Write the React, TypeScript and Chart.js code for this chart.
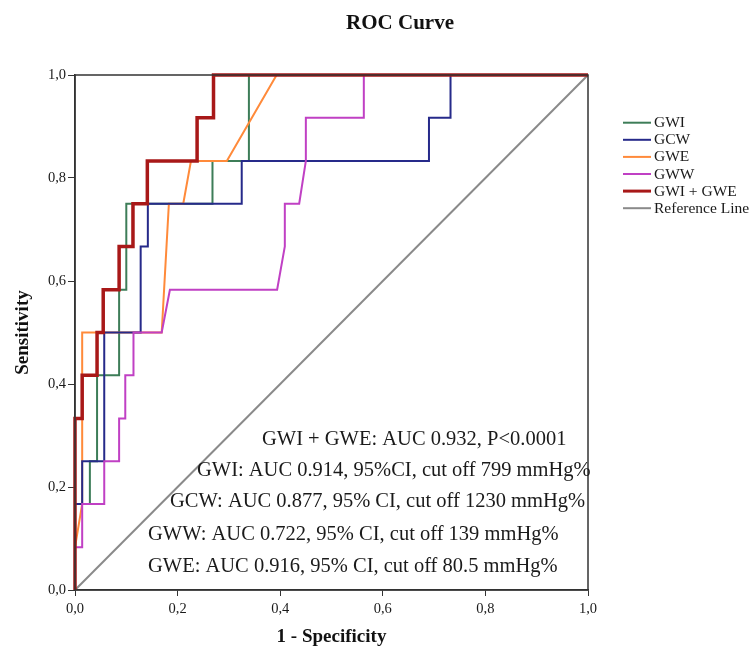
import React, { useEffect, useRef } from "react";
import { Chart, registerables } from "chart.js";

Chart.register(...registerables);

// ROC points (x = 1 - specificity, y = sensitivity)
const gwiX = [0, 0, 0.029, 0.029, 0.043, 0.043, 0.086, 0.086, 0.1, 0.1, 0.268, 0.268, 0.339, 0.339, 1];
const gwiY = [0, 0.167, 0.167, 0.25, 0.25, 0.417, 0.417, 0.583, 0.583, 0.75, 0.75, 0.833, 0.833, 1, 1];

const gcwX = [0, 0, 0.014, 0.014, 0.057, 0.057, 0.128, 0.128, 0.142, 0.142, 0.325, 0.325, 0.69, 0.69, 0.732, 0.732, 1];
const gcwY = [0, 0.167, 0.167, 0.25, 0.25, 0.5, 0.5, 0.667, 0.667, 0.75, 0.75, 0.833, 0.833, 0.917, 0.917, 1, 1];

const gweX = [0, 0, 0.014, 0.014, 0.169, 0.183, 0.211, 0.226, 0.296, 0.393, 1];
const gweY = [0, 0.083, 0.167, 0.5, 0.5, 0.75, 0.75, 0.833, 0.833, 1, 1];

const gwwX = [0, 0, 0.014, 0.014, 0.057, 0.057, 0.086, 0.086, 0.098, 0.098, 0.114, 0.114, 0.169, 0.185, 0.394, 0.409, 0.409, 0.437, 0.45, 0.45, 0.563, 0.563, 1];
const gwwY = [0, 0.083, 0.083, 0.167, 0.167, 0.25, 0.25, 0.333, 0.333, 0.417, 0.417, 0.5, 0.5, 0.583, 0.583, 0.667, 0.75, 0.75, 0.833, 0.917, 0.917, 1, 1];

const comboX = [0, 0, 0.014, 0.014, 0.043, 0.043, 0.055, 0.055, 0.086, 0.086, 0.113, 0.113, 0.141, 0.141, 0.238, 0.238, 0.27, 0.27, 1];
const comboY = [0, 0.333, 0.333, 0.417, 0.417, 0.5, 0.5, 0.583, 0.583, 0.667, 0.667, 0.75, 0.75, 0.833, 0.833, 0.917, 0.917, 1, 1];

const refX = [0, 1];
const refY = [0, 1];

const seriesLabels = ["GWI", "GCW", "GWE", "GWW", "GWI + GWE", "Reference Line"];
const seriesColors = ["#3d7d58", "#262a8a", "#ff8a3a", "#c040c4", "#a81818", "#8a8a8a"];
const seriesWidths = [2, 2, 2, 2, 3.5, 2];
const seriesOrder = [4, 2, 3, 1, 0, 5];

const yTicks = [0, 0.2, 0.4, 0.6, 0.8, 1.0];

const titleText = "ROC Curve";
const xTitle = "1 - Specificity";
const yTitle = "Sensitivity";

const noteTexts = [
  "GWI + GWE: AUC 0.932, P<0.0001",
  "GWI: AUC 0.914, 95%CI, cut off 799 mmHg%",
  "GCW: AUC 0.877, 95% CI, cut off 1230 mmHg%",
  "GWW: AUC 0.722, 95% CI, cut off 139 mmHg%",
  "GWE: AUC 0.916, 95% CI, cut off 80.5 mmHg%",
];
const noteLeft = [262, 197, 170, 148, 148];
const noteMidY = [440, 471, 502, 535, 567];

const SERIF = '"Liberation Serif", "Times New Roman", serif';

function pts(xs: number[], ys: number[]) {
  return xs.map((x, i) => ({ x, y: ys[i] }));
}

const decorPlugin = {
  id: "decor",
  afterDraw(chart: any) {
    const { ctx, chartArea } = chart;
    ctx.save();
    // frame
    ctx.strokeStyle = "#333";
    ctx.lineWidth = 1.5;
    ctx.strokeRect(chartArea.left, chartArea.top, chartArea.right - chartArea.left, chartArea.bottom - chartArea.top);
    // title
    ctx.fillStyle = "#111";
    ctx.font = `bold 21px ${SERIF}`;
    ctx.textAlign = "center";
    ctx.textBaseline = "middle";
    ctx.fillText(titleText, 400, 24);
    // notes
    ctx.font = `20.5px ${SERIF}`;
    ctx.textAlign = "left";
    ctx.fillStyle = "#1a1a1a";
    noteTexts.forEach((t, i) => ctx.fillText(t, noteLeft[i], noteMidY[i]));
    // legend
    ctx.font = `15.5px ${SERIF}`;
    chart.data.datasets.forEach((ds: any, i: number) => {
      const y = 122.7 + i * 17.1;
      ctx.strokeStyle = ds.borderColor;
      ctx.lineWidth = i === 4 ? 3 : 2;
      ctx.beginPath();
      ctx.moveTo(623, y);
      ctx.lineTo(651, y);
      ctx.stroke();
      ctx.fillStyle = "#1a1a1a";
      ctx.fillText(ds.label, 654, y + 0.5);
    });
    ctx.restore();
  },
};

export default function App() {
  const ref = useRef<HTMLCanvasElement | null>(null);
  useEffect(() => {
    if (!ref.current) return;
    const xs = [gwiX, gcwX, gweX, gwwX, comboX, refX];
    const ys = [gwiY, gcwY, gweY, gwwY, comboY, refY];
    const chart = new Chart(ref.current, {
      type: "line",
      data: {
        datasets: seriesLabels.map((label, i) => ({
          label,
          data: pts(xs[i], ys[i]),
          borderColor: seriesColors[i],
          backgroundColor: seriesColors[i],
          borderWidth: seriesWidths[i],
          pointRadius: 0,
          fill: false,
          tension: 0,
          order: seriesOrder[i],
          clip: 4,
        })),
      },
      options: {
        responsive: false,
        animation: false,
        devicePixelRatio: 1,
        parsing: true,
        layout: { padding: { top: 75, right: 164, bottom: 0, left: 0 } },
        plugins: {
          legend: { display: false },
          tooltip: { enabled: false },
          title: { display: false },
        },
        scales: {
          x: {
            type: "linear",
            min: 0,
            max: 1,
            afterFit: (s: any) => {
              s.height = 58;
            },
            ticks: {
              stepSize: 0.2,
              color: "#1a1a1a",
              padding: 4,
              font: { family: SERIF, size: 14.5 },
              callback: (v: any) => Number(v).toFixed(1).replace(".", ","),
            },
            grid: { display: true, drawOnChartArea: false, drawTicks: true, tickLength: 6, color: "#333" },
            border: { display: true, color: "#333", width: 1.5 },
            title: {
              display: true,
              text: xTitle,
              color: "#111",
              font: { family: SERIF, size: 19, weight: "bold" },
              padding: { top: 0, bottom: 0 },
            },
          },
          y: {
            type: "linear",
            min: 0,
            max: 1,
            afterFit: (s: any) => {
              s.width = 75;
            },
            afterBuildTicks: (s: any) => {
              s.ticks = yTicks.map((v) => ({ value: v }));
            },
            ticks: {
              color: "#1a1a1a",
              padding: 2,
              font: { family: SERIF, size: 14.5 },
              callback: (v: any) => Number(v).toFixed(1).replace(".", ","),
            },
            grid: { display: true, drawOnChartArea: false, drawTicks: true, tickLength: 7, color: "#333" },
            border: { display: true, color: "#333", width: 1.5 },
            title: {
              display: true,
              text: yTitle,
              color: "#111",
              font: { family: SERIF, size: 19, weight: "bold" },
              padding: { top: 12, bottom: 0 },
            },
          },
        },
      },
      plugins: [decorPlugin],
    });
    return () => chart.destroy();
  }, []);
  return (
    <div style={{ position: "fixed", left: 0, top: 0, width: 752, height: 648, background: "#fff" }}>
      <canvas ref={ref} width={752} height={648} style={{ width: 752, height: 648 }} />
    </div>
  );
}
